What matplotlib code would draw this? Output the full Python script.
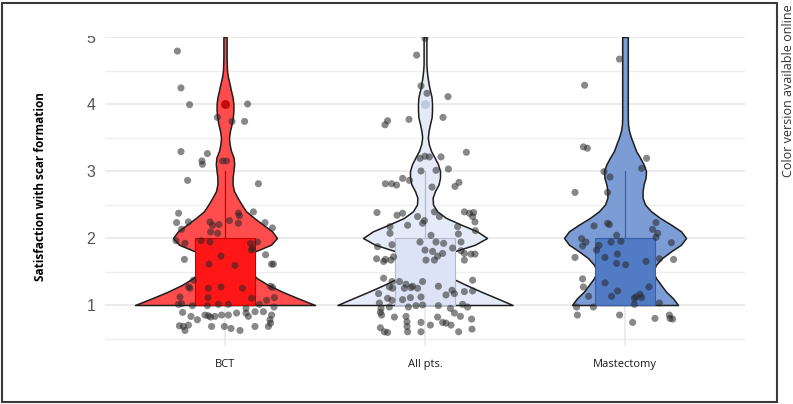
import numpy as np
import matplotlib.pyplot as plt
from matplotlib.patches import Rectangle

plt.rcParams['font.family'] = ['Open Sans', 'DejaVu Sans']

groups = ["BCT", "All pts.", "Mastectomy"]

levels = np.round(np.arange(1.0, 5.01, 0.1), 1)

# violin half-widths (category units) at each level
bct_width = [0.45, 0.365, 0.285, 0.215, 0.16, 0.125, 0.11, 0.115, 0.15, 0.23,
             0.26, 0.235, 0.19, 0.145, 0.105, 0.083, 0.063, 0.045, 0.038, 0.038,
             0.042, 0.046, 0.043, 0.03, 0.023, 0.02, 0.025, 0.033, 0.039, 0.042,
             0.042, 0.038, 0.03, 0.023, 0.015, 0.01, 0.009, 0.008, 0.008, 0.008,
             0.008]
all_width = [0.438, 0.36, 0.28, 0.205, 0.135, 0.09, 0.08, 0.095, 0.145, 0.25,
             0.31, 0.26, 0.18, 0.105, 0.06, 0.04, 0.038, 0.05, 0.068, 0.075,
             0.075, 0.065, 0.048, 0.03, 0.019, 0.014, 0.018, 0.025, 0.033, 0.035,
             0.035, 0.033, 0.025, 0.018, 0.013, 0.009, 0.007, 0.007, 0.007, 0.007,
             0.007]
mast_width = [0.265, 0.24, 0.205, 0.18, 0.155, 0.14, 0.155, 0.185, 0.23, 0.28,
              0.305, 0.28, 0.23, 0.175, 0.13, 0.1, 0.088, 0.088, 0.093, 0.103,
              0.105, 0.093, 0.075, 0.055, 0.043, 0.03, 0.02, 0.015, 0.014, 0.014,
              0.014, 0.014, 0.014, 0.014, 0.014, 0.014, 0.014, 0.014, 0.014, 0.014,
              0.014]

# box statistics
q1 = [1, 1, 1]
median = [1, 1, 2]
q3 = [2, 2, 2]
whisker_hi = [3, 3, 3]
outliers = [[4.0], [4.0], []]

# jittered observations: horizontal offset from the category and value
bct_dx = [-0.238, -0.22, -0.177, 0.113, -0.038, 0.035, 0.098, -0.22, -0.088, -0.115,
          -0.113, -0.012, 0.008, -0.187, 0.167, -0.232, 0.142, -0.242, -0.183, -0.075,
          -0.062, -0.03, 0.022, 0.067, 0.072, 0.067, 0.2, 0.237, -0.072, -0.037,
          -0.217, -0.245, -0.2, -0.12, -0.075, 0.128, 0.137, 0.133, 0.163, 0.203,
          0.233, 0.242, -0.203, -0.02, -0.08, 0.05, -0.158, -0.183, -0.175, -0.083,
          -0.02, 0.087, 0.228, 0.238, -0.225, -0.085, 0.133, 0.208, 0.247, -0.233,
          -0.217, -0.163, -0.088, -0.033, 0.017, 0.105, 0.172, 0.245, -0.212, -0.17,
          -0.138, -0.1, -0.083, -0.072, -0.05, -0.017, 0.017, 0.058, 0.105, 0.117,
          0.15, 0.192, 0.233, 0.225, 0.228, -0.228, -0.208, -0.183, -0.2, -0.067,
          -0.003, 0.03, 0.075, 0.15, 0.217]
bct_y = [4.79, 4.24, 3.99, 4.0, 3.8, 3.74, 3.74, 3.29, 3.26, 3.15,
         3.1, 3.15, 3.15, 2.86, 2.81, 2.37, 2.39, 2.23, 2.24, 2.24,
         2.19, 2.2, 2.26, 2.37, 2.33, 2.22, 2.23, 2.15, 2.09, 2.07,
         2.13, 1.96, 1.92, 1.96, 1.94, 1.92, 1.85, 1.82, 1.94, 1.75,
         1.61, 1.61, 1.68, 1.73, 1.61, 1.59, 1.37, 1.27, 1.25, 1.25,
         1.27, 1.25, 1.28, 1.26, 1.12, 1.11, 1.1, 1.07, 1.11, 1.01,
         1.02, 0.99, 0.99, 1.01, 1.01, 0.95, 1.01, 0.97, 0.89, 0.83,
         0.78, 0.85, 0.84, 0.82, 0.83, 0.85, 0.85, 0.88, 0.88, 0.83,
         0.9, 0.9, 0.85, 0.78, 0.73, 0.69, 0.68, 0.7, 0.62, 0.68,
         0.68, 0.65, 0.62, 0.68, 0.68]

all_dx = [-0.042, -0.02, 0.01, 0.115, -0.08, -0.187, -0.2, 0.09, 0.207, -0.025,
          0.0, 0.022, 0.08, -0.02, 0.055, 0.117, -0.112, -0.078, -0.198, -0.167,
          -0.142, 0.035, 0.15, 0.17, -0.24, -0.14, -0.112, -0.037, -0.003, -0.012,
          0.047, 0.072, -0.087, -0.175, -0.175, 0.163, 0.167, 0.197, 0.222, 0.243,
          0.238, 0.25, 0.252, 0.03, -0.025, 0.055, 0.093, -0.165, 0.138, 0.18,
          0.18, -0.237, 0.0, -0.157, -0.17, -0.198, -0.207, 0.038, 0.063, 0.088,
          0.047, 0.005, 0.197, 0.197, 0.23, 0.25, -0.242, -0.207, -0.165, -0.178,
          -0.162, -0.128, -0.095, -0.062, -0.012, -0.103, -0.07, -0.037, 0.067, 0.135,
          0.147, 0.105, 0.238, 0.238, 0.197, -0.232, -0.187, -0.165, -0.112, -0.073,
          -0.02, -0.012, -0.228, -0.22, -0.178, -0.083, -0.045, 0.067, 0.127, 0.147,
          0.188, 0.213, -0.217, -0.223, -0.153, -0.095, -0.09, -0.02, 0.027, 0.063,
          0.088, 0.105, 0.13, 0.177, 0.233, -0.223, -0.203, -0.187, -0.09, -0.087,
          -0.02, 0.168, 0.235, 0.0]
all_y = [4.73, 4.27, 4.16, 4.11, 3.77, 3.75, 3.69, 3.8, 3.28, 3.19,
         3.22, 3.21, 3.21, 3.0, 3.01, 3.03, 2.89, 2.86, 2.81, 2.81,
         2.79, 2.76, 2.77, 2.83, 2.38, 2.34, 2.37, 2.32, 2.26, 2.22,
         2.39, 2.32, 2.19, 2.17, 2.07, 2.17, 2.06, 2.39, 2.37, 2.38,
         2.32, 2.24, 2.11, 2.04, 1.94, 1.94, 1.92, 1.9, 1.85, 1.94,
         1.81, 1.87, 1.82, 1.72, 1.67, 1.68, 1.65, 1.8, 1.73, 1.77,
         1.67, 1.67, 1.77, 1.67, 1.76, 1.76, 1.69, 1.4, 1.35, 1.27,
         1.25, 1.35, 1.31, 1.28, 1.35, 1.25, 1.26, 1.25, 1.28, 1.22,
         1.17, 1.15, 1.37, 1.21, 1.2, 1.17, 1.1, 1.07, 1.08, 1.11,
         1.12, 1.0, 1.03, 0.95, 0.97, 0.97, 0.99, 0.99, 0.95, 0.88,
         1.01, 0.97, 0.85, 0.89, 0.82, 0.83, 0.75, 0.74, 0.7, 0.82,
         0.74, 0.73, 0.7, 0.83, 0.79, 0.66, 0.6, 0.59, 0.68, 0.6,
         0.6, 0.6, 0.64, 4.98]

mast_dx = [-0.028, -0.202, -0.208, -0.188, 0.108, 0.083, -0.105, -0.075, -0.25, -0.087,
           -0.155, -0.087, -0.078, 0.155, 0.138, 0.163, -0.042, -0.217, -0.195, -0.212,
           -0.13, -0.142, -0.07, -0.02, 0.155, 0.232, -0.038, -0.1, -0.25, -0.042,
           0.003, 0.105, 0.172, 0.243, -0.212, -0.208, -0.1, -0.037, 0.12, -0.182,
           -0.067, 0.075, 0.083, 0.047, 0.055, 0.047, 0.172, -0.242, -0.158, -0.238,
           -0.027, 0.038, 0.15, 0.222, 0.225, 0.238]
mast_y = [4.67, 4.28, 3.36, 3.34, 3.19, 3.04, 2.99, 2.91, 2.68, 2.68,
          2.18, 2.22, 2.2, 2.23, 2.13, 2.07, 2.04, 1.99, 1.94, 1.88,
          1.89, 1.82, 1.94, 1.95, 2.01, 1.93, 1.76, 1.71, 1.71, 1.62,
          1.6, 1.65, 1.69, 1.68, 1.39, 1.27, 1.33, 1.21, 1.27, 1.13,
          1.13, 1.16, 1.11, 1.1, 1.12, 1.01, 1.03, 0.97, 0.97, 0.85,
          0.85, 0.74, 0.8, 0.85, 0.8, 0.79]

widths = [bct_width, all_width, mast_width]
points_dx = [bct_dx, all_dx, mast_dx]
points_y = [bct_y, all_y, mast_y]

violin_colors = ['#ff4d4d', '#e4eaf7', '#7c9cd6']
box_colors = ['#ff1717', '#dce3f5', '#527bc6']
line_colors = ['#c40000', '#b4bccb', '#3a5fa8']
flier_colors = ['#b80000', '#b9c4da', '#3a5fa8']

W, H = 793, 404
fig = plt.figure(figsize=(W / 100, H / 100), dpi=100)
ax = fig.add_axes([105 / W, 1 - 345 / H, 640 / W, 308 / H])

for i, name in enumerate(groups):
    pos = i + 1
    hw = np.array(widths[i])
    ax.fill_betweenx(levels, pos - hw, pos + hw, facecolor=violin_colors[i],
                     edgecolor='#1e1e1e', linewidth=1.1, zorder=2)
    stats = [dict(med=median[i], q1=q1[i], q3=q3[i], whislo=q1[i],
                  whishi=whisker_hi[i], fliers=outliers[i])]
    ax.bxp(stats, positions=[pos], widths=0.3, patch_artist=True,
           showcaps=False, manage_ticks=False, zorder=3,
           boxprops=dict(facecolor=box_colors[i], edgecolor=line_colors[i], linewidth=0.8),
           whiskerprops=dict(color=line_colors[i], linewidth=0.9),
           medianprops=dict(color=line_colors[i], linewidth=0.8),
           flierprops=dict(marker='o', markerfacecolor=flier_colors[i],
                           markeredgecolor='none', markersize=6.5, alpha=0.85))
    ax.scatter(pos + np.array(points_dx[i]), points_y[i], s=26, c='#262626',
               alpha=0.55, edgecolors='none', zorder=4)

ax.set_xlim(0.4, 3.6)
ax.set_ylim(0.403, 5.0)
ax.set_xticks([1, 2, 3])
ax.set_xticklabels(groups, fontsize=8, color='#1a1a1a')
ax.set_yticks([1, 2, 3, 4, 5])
ax.set_yticklabels(['1', '2', '3', '4', '5'], fontsize=11.5, color='#555555',
                   family='Liberation Sans')
ax.set_yticks([0.5, 1.5, 2.5, 3.5, 4.5], minor=True)
ax.tick_params(which='both', length=0)
ax.tick_params(axis='x', pad=10)
ax.tick_params(axis='y', pad=7)
ax.grid(which='major', color='#e6e6e6', linewidth=1.1, zorder=0)
ax.grid(which='minor', axis='y', color='#eeeeee', linewidth=1.0, zorder=0)
ax.set_axisbelow(True)
for s in ax.spines.values():
    s.set_visible(False)

ax.set_ylabel('Satisfaction with scar formation', fontsize=8.5, fontweight='bold')
ax.yaxis.set_label_coords(-58 / 640, 0.515)

# the source image is cropped just above the top gridline, cutting the "5" label
fig.patches.append(Rectangle((60 / W, 1 - 36 / H), 44 / W, 31 / H,
                             transform=fig.transFigure, facecolor='white',
                             edgecolor='none', zorder=5))
fig.patches.append(Rectangle((2 / W, 2 / H), 775 / W, 399 / H, transform=fig.transFigure,
                             fill=False, edgecolor='#3a3a3a', linewidth=1.5, zorder=6))
fig.text(788 / W, 1 - 4 / H, 'Color version available online', rotation=90,
         ha='center', va='top', fontsize=9, color='#333333')

fig.savefig('out.png', dpi=100)
